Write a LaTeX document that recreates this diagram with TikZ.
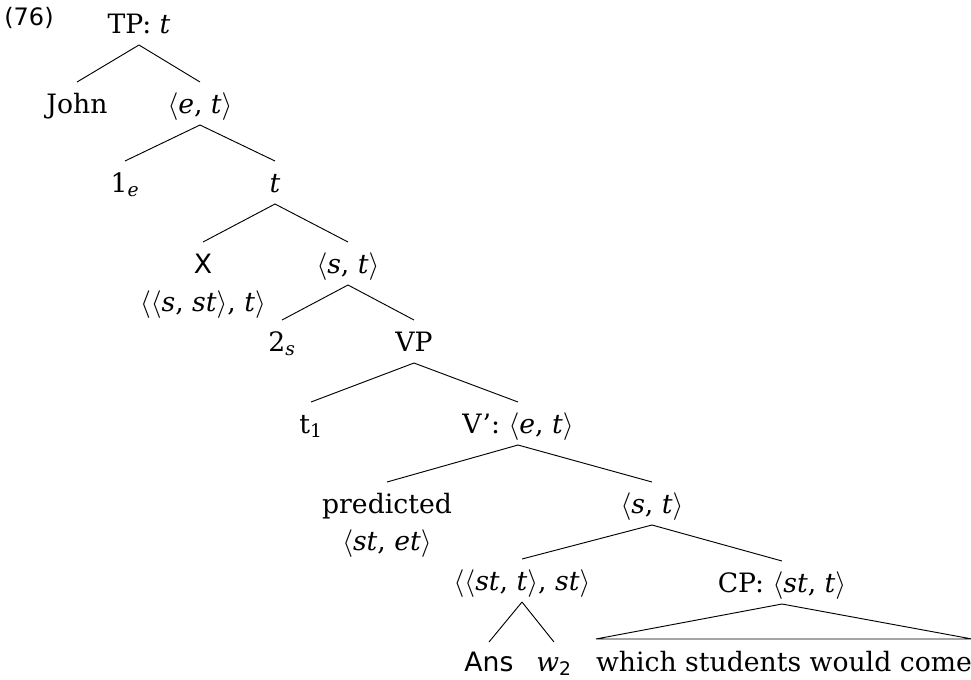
\documentclass[tikz,border=0pt]{standalone}
\usepackage{fontspec}
\setmainfont{DejaVu Serif}
\setsansfont{DejaVu Sans}
\newcommand{\ang}[1]{$\langle$#1$\rangle$}
\newcommand{\iv}[1]{\textit{#1}}
\begin{document}
\begin{tikzpicture}[x=0.75pt,y=-0.75pt,
  font=\fontsize{20}{24}\selectfont,
  lbl/.style={anchor=base, inner sep=0pt},
  edge/.style={line width=0.7pt}]
\useasboundingbox (0,0) rectangle (971,679);
\node[lbl, font=\fontsize{18}{21}\sffamily] (n76) at (29,25) {(76)};
\node[lbl] (tp) at (139,33) {TP: \iv{t}};
\node[lbl] (john) at (77,113) {John};
\node[lbl] (et) at (200,113) {\ang{\iv{e}, \iv{t}}};
\node[lbl] (one) at (125,192) {1\textsubscript{\iv{e}}};
\node[lbl] (t) at (275,192) {\iv{t}};
\node[lbl] (x) at (203,273) {\textsf{X}};
\node[lbl] (xtype) at (203,311) {$\langle\langle$\iv{s}, \iv{st}$\rangle$, \iv{t}$\rangle$};
\node[lbl] (st1) at (348,273) {\ang{\iv{s}, \iv{t}}};
\node[lbl] (two) at (282,351) {2\textsubscript{\iv{s}}};
\node[lbl] (vp) at (414,351) {VP};
\node[lbl] (t1) at (311,433) {t\textsubscript{1}};
\node[lbl] (vbar) at (518,433) {V’: \ang{\iv{e}, \iv{t}}};
\node[lbl] (pred) at (387,513) {predicted};
\node[lbl] (predtype) at (387,550) {\ang{\iv{st}, \iv{et}}};
\node[lbl] (st2) at (652,513) {\ang{\iv{s}, \iv{t}}};
\node[lbl] (ans) at (522,590) {$\langle\langle$\iv{st}, \iv{t}$\rangle$, \iv{st}$\rangle$};
\node[lbl] (cp) at (782,592) {CP: \ang{\iv{st}, \iv{t}}};
\node[lbl] (Ans) at (489,671) {\textsf{Ans}};
\node[lbl] (w) at (554,671) {\iv{w}\textsubscript{\textsf{2}}};
\node[lbl] (which) at (784,671) {which students would come};
\newcommand{\br}[2]{\draw[edge] ([yshift=-9pt]#1.base) -- ([yshift=23.25pt]#2.base);}
\br{tp}{john}\br{tp}{et}
\br{et}{one}\br{et}{t}
\br{t}{x}\br{t}{st1}
\br{st1}{two}\br{st1}{vp}
\br{vp}{t1}\br{vp}{vbar}
\br{vbar}{pred}\br{vbar}{st2}
\br{st2}{ans}\br{st2}{cp}
\draw[edge] ([yshift=-9pt]ans.base) -- ([yshift=21.75pt]Ans.base);
\draw[edge] ([yshift=-9pt]ans.base) -- ([yshift=21.75pt]w.base);
\draw[edge] ([yshift=-9pt]cp.base) -- ([yshift=24pt]which.base west) -- ([yshift=24pt]which.base east) -- cycle;
\end{tikzpicture}
\end{document}
